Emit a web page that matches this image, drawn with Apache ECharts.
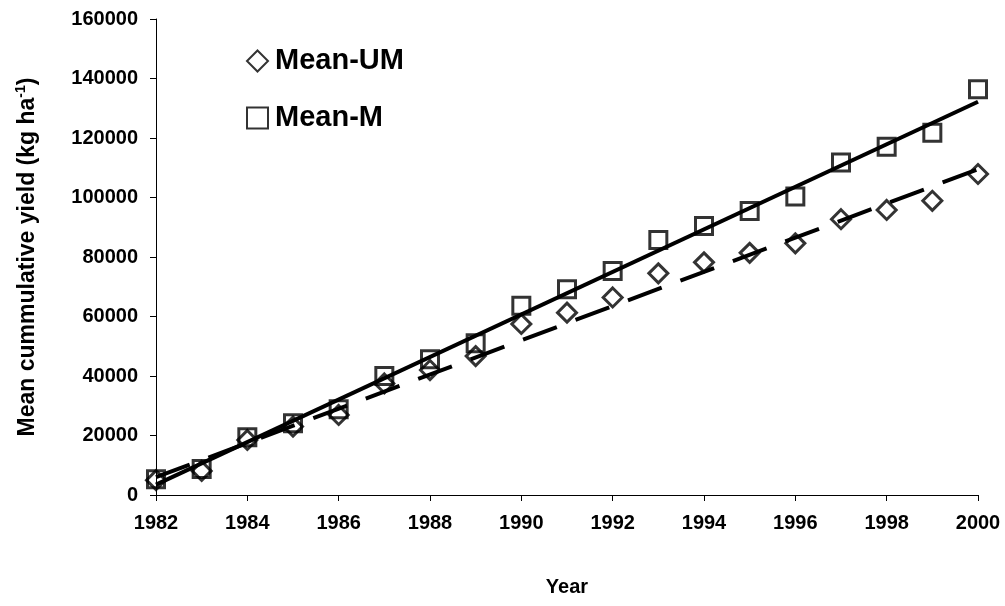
<!DOCTYPE html>
<html>
<head>
<meta charset="utf-8">
<script src="https://cdn.jsdelivr.net/npm/echarts@6/dist/echarts.min.js"></script>
<style>
html,body{margin:0;padding:0;background:#fff;}
#chart{width:1005px;height:606px;}
</style>
</head>
<body>
<div id="chart"></div>
<script>
// ---- data ----
const years = [1982,1983,1984,1985,1986,1987,1988,1989,1990,1991,1992,1993,1994,1995,1996,1997,1998,1999,2000];
const meanUM = [5000,8100,18500,23000,26900,37500,42000,46700,57500,61300,66400,74500,78200,81400,84600,92700,95800,98900,107900];
const meanM  = [5300,8700,19400,24100,28800,40000,45600,51000,63600,69200,75300,85700,90400,95500,100300,111800,117100,121800,136400];
// trend lines (end points)
const trendUMYears = [1982, 2000];
const trendUMVals  = [6000, 109500];
const trendMYears  = [1982, 2000];
const trendMVals   = [3500, 132200];
const yTicks = [0,20000,40000,60000,80000,100000,120000,140000,160000];
const seriesNames = ['Mean-UM','Mean-M'];

const pair = (xs, ys) => xs.map((x,i)=>[x, ys[i]]);
const FONT = 'Liberation Sans, Arial, sans-serif';

const chart = echarts.init(document.getElementById('chart'), null, {renderer:'canvas'});
const markerStyle = {color:'rgba(255,255,255,0)', borderColor:'#000', borderWidth:3};

chart.setOption({
  animation:false,
  backgroundColor:'#fff',
  grid:{left:156, right:27, top:19, bottom:111},
  legend:{
    orient:'vertical', left:241, top:41,
    itemWidth:21, itemHeight:21, itemGap:27,
    selectedMode:false,
    data:seriesNames,
    textStyle:{fontFamily:FONT, fontWeight:'bold', fontSize:29, color:'#000', lineHeight:30, padding:[0,0,0,2]}
  },
  xAxis:{
    type:'value', min:1982, max:2000, interval:2,
    name:'Year', nameLocation:'middle', nameGap:82,
    nameTextStyle:{fontFamily:FONT, fontWeight:'bold', fontSize:20, color:'#000'},
    axisLine:{lineStyle:{color:'#000', width:1}},
    axisTick:{show:true, length:6, lineStyle:{color:'#000'}},
    splitLine:{show:false},
    axisLabel:{fontFamily:FONT, fontWeight:'bold', fontSize:20, color:'#000', margin:18, formatter:v=>String(v)}
  },
  yAxis:{
    type:'value', min:yTicks[0], max:yTicks[yTicks.length-1], interval:yTicks[1]-yTicks[0],
    name:'{a|Mean cummulative yield (kg ha}{s|-1}{a|)}',
    nameLocation:'middle', nameGap:117, nameRotate:90,
    nameTextStyle:{fontFamily:FONT, fontWeight:'bold', fontSize:23, color:'#000',
      rich:{
        a:{fontFamily:FONT, fontWeight:'bold', fontSize:23, color:'#000', lineHeight:25, verticalAlign:'bottom'},
        s:{fontFamily:FONT, fontWeight:'bold', fontSize:14, color:'#000', lineHeight:25, verticalAlign:'top', padding:[0,0,10,0]}
      }},
    axisLine:{show:true, lineStyle:{color:'#000', width:1}},
    axisTick:{show:true, length:6, lineStyle:{color:'#000'}},
    splitLine:{show:false},
    axisLabel:{fontFamily:FONT, fontWeight:'bold', fontSize:20, color:'#000', margin:18, formatter:v=>String(v)}
  },
  series:[
    {name:seriesNames[0], type:'scatter', symbol:'diamond', symbolSize:19, data:pair(years, meanUM), itemStyle:markerStyle, z:3},
    {name:seriesNames[1], type:'scatter', symbol:'rect', symbolSize:17, data:pair(years, meanM), itemStyle:markerStyle, z:3},
    {name:'trendUM', type:'line', data:pair(trendUMYears, trendUMVals), symbol:'none', silent:true,
      lineStyle:{color:'#000', width:4, type:[36,20], cap:'butt'}, z:4},
    {name:'trendM', type:'line', data:pair(trendMYears, trendMVals), symbol:'none', silent:true,
      lineStyle:{color:'#000', width:4, type:'solid'}, z:4}
  ]
});
</script>
</body>
</html>
